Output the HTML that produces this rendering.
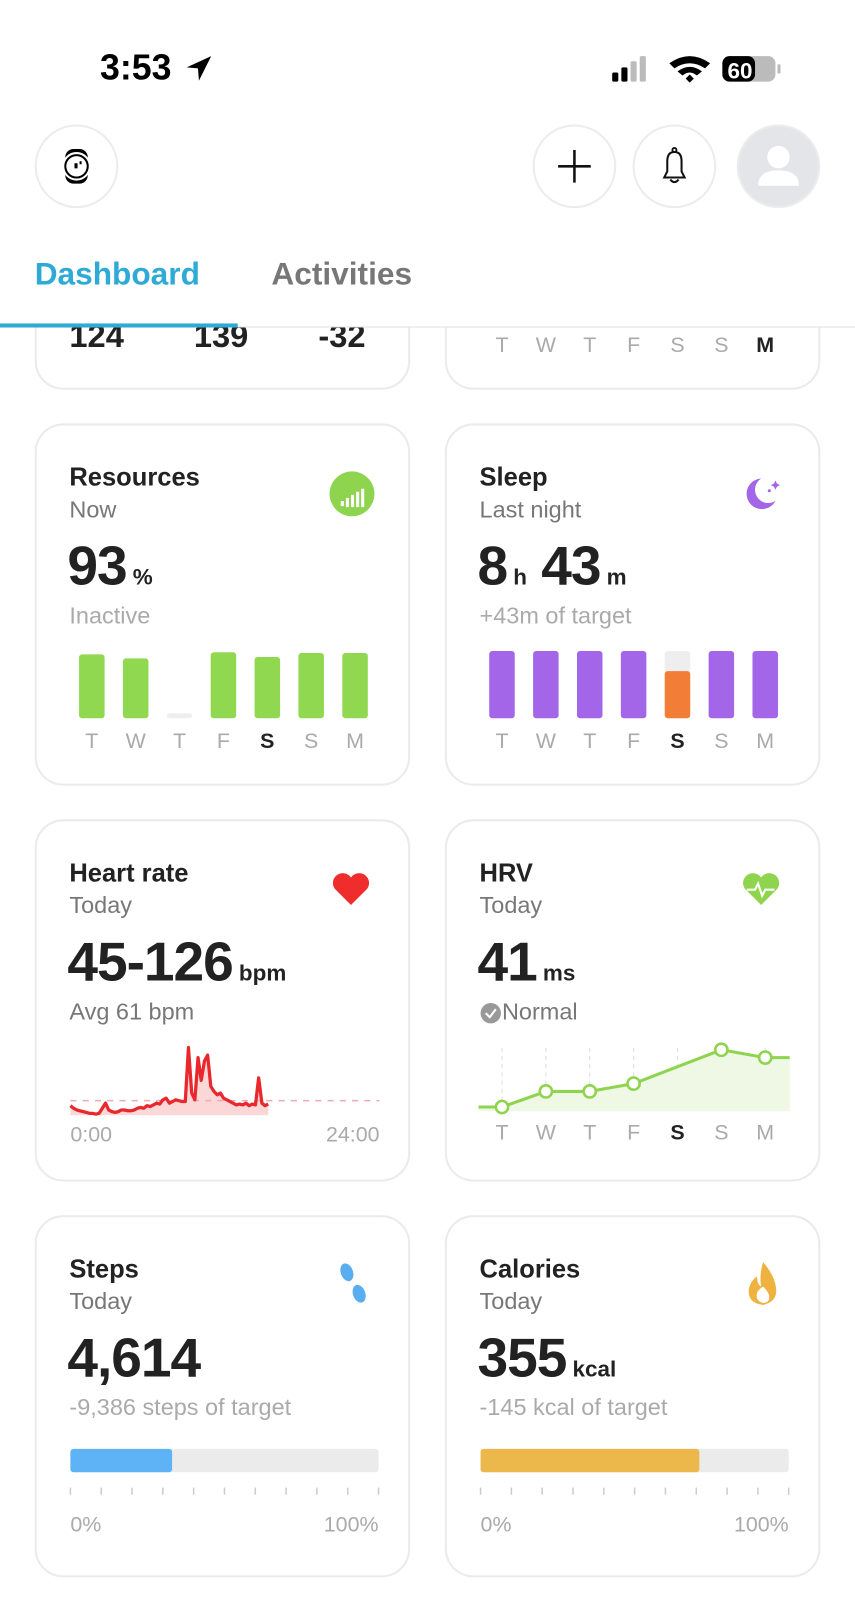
<!DOCTYPE html>
<html><head><meta charset="utf-8">
<style>
*{margin:0;padding:0;box-sizing:border-box}
html,body{width:855px;height:1600px;overflow:hidden;background:#fff;font-family:"Liberation Sans",sans-serif}
#wrap{position:absolute;left:0;top:0;width:838px;height:1568px;transform:scale(1.0203);transform-origin:0 0}
.abs{position:absolute}
.card{position:absolute;border:2px solid #ebebeb;border-radius:28px;background:#fff}
.title{position:absolute;font-size:25px;font-weight:bold;color:#222}
.sub{position:absolute;font-size:23px;color:#777}
.big{position:absolute;font-size:54px;font-weight:bold;color:#222;letter-spacing:-1px}
.big small{font-size:22px;letter-spacing:0;margin-left:6px}
.muted{position:absolute;font-size:23px;color:#aaa}
.circ{position:absolute;width:82px;height:82px;border-radius:50%;border:2px solid #ececec;background:#fff}
svg text{font-family:"Liberation Sans",sans-serif}
</style></head><body>
<div id="wrap">
<div class="abs" style="left:98px;top:47px;font-size:35px;font-weight:bold;color:#000">3:53</div>
<svg class="abs" style="left:180px;top:52px" width="30" height="30"><path d="M27 3 L3 14 L14 15 L15 27 Z" fill="#000"/></svg>
<svg class="abs" style="left:598px;top:52px" width="170" height="32">
<rect x="2" y="19" width="6" height="9" rx="1.5" fill="#000"/><rect x="11" y="14" width="6" height="14" rx="1.5" fill="#000"/><rect x="20" y="8" width="6" height="20" rx="1.5" fill="#bbb"/><rect x="29" y="3" width="6" height="25" rx="1.5" fill="#bbb"/>
<path d="M58 10 Q78 -4 98 10 L93 15 Q78 5 63 15Z" fill="#000"/><path d="M66 18 Q78 9 90 18 L85 22 Q78 16 71 22Z" fill="#000"/><path d="M74 25 L78 21 L82 25 L78 29Z" fill="#000"/>
<rect x="110" y="3" width="52" height="25" rx="7" fill="#bbb"/><rect x="110" y="3" width="32" height="25" rx="7" fill="#000"/><rect x="164" y="11" width="3" height="9" rx="1" fill="#bbb"/>
<text x="115" y="25" font-size="22" font-weight="bold" fill="#fff">60</text></svg>
<div class="circ" style="left:34px;top:122px"><svg width="78" height="78"><rect x="28" y="22" width="22" height="34" rx="8" fill="#000"/><circle cx="39" cy="39" r="13" fill="#000" stroke="#fff" stroke-width="2"/><circle cx="39" cy="39" r="10" fill="#fff"/><rect x="37" y="36" width="3" height="5" fill="#000"/><rect x="42" y="34" width="2" height="3" fill="#000"/></svg></div>
<div class="circ" style="left:522px;top:122px"><svg width="78" height="78"><path d="M39 23V55M23 39H55" stroke="#111" stroke-width="2.5"/></svg></div>
<div class="circ" style="left:620px;top:122px"><svg width="78" height="78"><path d="M29 50 L32 44 L32 34 Q32 25 39 25 Q46 25 46 34 L46 44 L49 50 Z" fill="none" stroke="#111" stroke-width="2"/><circle cx="39" cy="23" r="2" fill="none" stroke="#111" stroke-width="1.8"/><path d="M35 52 Q39 57 43 52" fill="none" stroke="#111" stroke-width="2"/></svg></div>
<div class="circ" style="left:722px;top:122px;background:#e3e5e9"><svg width="78" height="78"><circle cx="39" cy="30" r="11" fill="#fff"/><path d="M19 58 Q19 43 39 43 Q59 43 59 58 Z" fill="#fff"/></svg></div>
<div class="card" style="left:34px;top:260px;width:368px;height:122px">
<div class="abs" style="left:32px;top:49px;font-size:32px;font-weight:bold;color:#222">124</div>
<div class="abs" style="left:154px;top:49px;font-size:32px;font-weight:bold;color:#222">139</div>
<div class="abs" style="left:276px;top:49px;font-size:32px;font-weight:bold;color:#222">-32</div></div>
<div class="card" style="left:436px;top:260px;width:368px;height:122px">
<svg class="abs" style="left:0;top:0" width="368" height="120"><g font-size="21" fill="#aaa" text-anchor="middle"><text x="54" y="83">T</text><text x="97" y="83">W</text><text x="140" y="83">T</text><text x="183" y="83">F</text><text x="226" y="83">S</text><text x="269" y="83">S</text><text x="312" y="83" fill="#222" font-weight="bold">M</text></g></svg></div>
<div class="abs" style="left:0;top:220px;width:838px;height:101px;background:#fff;border-bottom:1.5px solid #e0e0e0"></div>
<div class="abs" style="left:34px;top:251px;font-size:31px;font-weight:bold;color:#2eaad6">Dashboard</div>
<div class="abs" style="left:266px;top:251px;font-size:31px;font-weight:bold;color:#777">Activities</div>
<div class="abs" style="left:0;top:317px;width:233px;height:4px;background:#2eaad6"></div>

<div class="card" style="left:34px;top:415px;width:368px;height:355px">
<div class="title" style="left:32px;top:37px">Resources</div><div class="sub" style="left:32px;top:69px">Now</div>
<div class="big" style="left:30px;top:107px">93<small>%</small></div><div class="muted" style="left:32px;top:173px">Inactive</div>
<svg class="abs" style="left:286px;top:44px" width="46" height="46"><circle cx="23" cy="23" r="22" fill="#8fd44f"/><g fill="#fff"><rect x="12" y="30" width="3" height="5"/><rect x="17" y="27" width="3" height="9"/><rect x="22" y="24" width="3" height="12"/><rect x="27" y="21" width="3" height="15"/><rect x="32" y="18" width="3" height="18"/></g></svg>
<svg id="resSvg" class="abs" style="left:0;top:0" width="368" height="350"></svg></div>
<div class="card" style="left:436px;top:415px;width:368px;height:355px">
<div class="title" style="left:32px;top:37px">Sleep</div><div class="sub" style="left:32px;top:69px">Last night</div>
<div class="big" style="left:30px;top:107px">8<small>h</small> 43<small>m</small></div><div class="muted" style="left:32px;top:173px">+43m of target</div>
<svg class="abs" style="left:286px;top:46px" width="46" height="46"><path d="M22 6 A15 15 0 1 0 36 28 A12 12 0 0 1 22 6Z" fill="#a466e8"/><path d="M36 8 l1.5 3 3 1.5 -3 1.5 -1.5 3 -1.5 -3 -3 -1.5 3 -1.5z" fill="#a466e8"/><circle cx="30" cy="18" r="1.5" fill="#a466e8"/></svg>
<svg id="sleepSvg" class="abs" style="left:0;top:0" width="368" height="350"></svg></div>
<div class="card" style="left:34px;top:803px;width:368px;height:355px">
<div class="title" style="left:32px;top:37px">Heart rate</div><div class="sub" style="left:32px;top:69px">Today</div>
<div class="big" style="left:30px;top:107px">45-126<small>bpm</small></div><div class="sub" style="left:32px;top:173px">Avg 61 bpm</div>
<svg class="abs" style="left:288px;top:48px" width="40" height="36"><path d="M20 34 L4 18 A9 9 0 0 1 20 7 A9 9 0 0 1 36 18 Z" fill="#f02d2d"/></svg>
<svg id="hrSvg" class="abs" style="left:0;top:0" width="368" height="350"></svg></div>
<div class="card" style="left:436px;top:803px;width:368px;height:355px">
<div class="title" style="left:32px;top:37px">HRV</div><div class="sub" style="left:32px;top:69px">Today</div>
<div class="big" style="left:30px;top:107px">41<small>ms</small></div>
<svg class="abs" style="left:32px;top:177px" width="22" height="22"><circle cx="11" cy="11" r="10" fill="#999"/><path d="M6 11 L10 15 L16 7" stroke="#fff" stroke-width="2" fill="none"/></svg>
<div class="sub" style="left:54px;top:173px">Normal</div>
<svg class="abs" style="left:288px;top:48px" width="40" height="36"><path d="M20 34 L4 18 A9 9 0 0 1 20 7 A9 9 0 0 1 36 18 Z" fill="#8fd44f"/><path d="M6 19 H14 L17 13 L21 25 L24 19 H33" stroke="#fff" stroke-width="2" fill="none"/></svg>
<svg id="hrvSvg" class="abs" style="left:0;top:0" width="368" height="350"></svg></div>
<div class="card" style="left:34px;top:1191px;width:368px;height:355px">
<div class="title" style="left:32px;top:37px">Steps</div><div class="sub" style="left:32px;top:69px">Today</div>
<div class="big" style="left:30px;top:107px">4,614</div><div class="muted" style="left:32px;top:173px">-9,386 steps of target</div>
<svg class="abs" style="left:294px;top:42px" width="34" height="50"><ellipse cx="10" cy="12" rx="6" ry="9" fill="#5aaef0" transform="rotate(-20 10 12)"/><ellipse cx="22" cy="33" rx="6" ry="9" fill="#5aaef0" transform="rotate(-20 22 33)"/></svg>
<svg id="stepsSvg" class="abs" style="left:0;top:0" width="368" height="350"></svg></div>
<div class="card" style="left:436px;top:1191px;width:368px;height:355px">
<div class="title" style="left:32px;top:37px">Calories</div><div class="sub" style="left:32px;top:69px">Today</div>
<div class="big" style="left:30px;top:107px">355<small>kcal</small></div><div class="muted" style="left:32px;top:173px">-145 kcal of target</div>
<svg class="abs" style="left:290px;top:42px" width="40" height="48"><path d="M20 2 Q30 14 32 24 Q36 40 20 44 Q4 42 6 28 Q8 20 14 16 Q14 24 18 26 Q16 14 20 2Z" fill="#efb13f"/><path d="M20 42 Q12 40 14 32 Q16 28 20 26 Q26 32 26 36 Q26 42 20 42Z" fill="#fff"/></svg>
<svg id="calSvg" class="abs" style="left:0;top:0" width="368" height="350"></svg></div>
</div>
<script>
const days=["T","W","T","F","S","S","M"];
const boldDay=4;
const resourcesVals=[95,89,2,98,91,97,97];
const sleepVals=[100,100,100,100,70,100,100];
const hrBpm=[55,52,50,49,48,47,46,46,45,46,52,58,50,48,47,48,50,50,49,49,50,52,53,52,55,54,56,58,57,62,64,58,60,62,61,60,60,124,70,62,112,85,108,115,78,72,68,70,64,62,60,58,56,57,56,58,55,57,56,88,58,55,57];
const hrAvg=61;
const hrDayFraction=0.64;
const hrvVals=[33,36,36,37.5,null,44,42.5];
const hrvLast=42.5;
const stepsPct=33;
const calPct=71;
const NS="http://www.w3.org/2000/svg";
function mk(svg,tag,attrs){const e=document.createElementNS(NS,tag);for(const k in attrs)e.setAttribute(k,attrs[k]);svg.appendChild(e);return e;}
function dayX(i){return 54+i*43;}
function dayLabels(svg,y){days.forEach((d,i)=>{const t=mk(svg,'text',{x:dayX(i),y:y,'font-size':21,'text-anchor':'middle',fill:i===boldDay?'#222':'#aaa','font-weight':i===boldDay?'bold':'normal'});t.textContent=d;

});}
function barY(v){return 287-v/100*66;}
function bars(id,vals,color,alt){const s=document.getElementById(id);vals.forEach((v,i)=>{
if(alt&&v<100){mk(s,'rect',{x:dayX(i)-12.5,y:barY(100),width:25,height:66,rx:3,fill:'#eee'});}
const h=Math.max(5,287-barY(v));const r=mk(s,'rect',{x:dayX(i)-12.5,y:287-h,width:25,height:h,rx:3,fill:v<10?'#eee':(alt&&v<100?'#f27d36':color)});

});dayLabels(s,316);}
bars('resSvg',resourcesVals,'#8fd84f',false);
bars('sleepSvg',sleepVals,'#a466e8',true);
(function(){const s=document.getElementById('hrSvg');const x0=33,x1=336;
const y=v=>287-(v-45)*0.827;const x=t=>x0+t*(x1-x0);
const n=hrBpm.length;let pts=hrBpm.map((v,i)=>[x(i/(n-1)*hrDayFraction),y(v)]);
let d='M'+pts.map(p=>p[0].toFixed(1)+' '+p[1].toFixed(1)).join(' L');
const area=mk(s,'path',{d:d+' L'+pts[n-1][0]+' 288 L'+x0+' 288Z',fill:'#fbd7d7'});


const avg=mk(s,'line',{x1:x0,x2:x1,y1:y(hrAvg),y2:y(hrAvg),stroke:'#eeaab0','stroke-width':1.5,'stroke-dasharray':'6 6'});


const ln=mk(s,'path',{d:d,fill:'none',stroke:'#e8282c','stroke-width':3.2,'stroke-linejoin':'round'});


const a=mk(s,'text',{x:x0,y:314,'font-size':21,fill:'#aaa'});a.textContent='0:00';
const b=mk(s,'text',{x:x1,y:314,'font-size':21,fill:'#aaa','text-anchor':'end'});b.textContent='24:00';})();
(function(){const s=document.getElementById('hrvSvg');const y=v=>280-(v-33)*5.1;
days.forEach((d,i)=>{mk(s,'line',{x1:dayX(i),x2:dayX(i),y1:222,y2:284,stroke:'#ddd','stroke-width':1,'stroke-dasharray':'4 4'});});
let pts=[[31,y(hrvVals[0])]];hrvVals.forEach((v,i)=>{if(v!==null)pts.push([dayX(i),y(v)]);});pts.push([336,y(hrvLast)]);
const d='M'+pts.map(p=>p[0]+' '+p[1].toFixed(1)).join(' L');
const ar=mk(s,'path',{d:d+' L336 284 L31 284Z',fill:'#eef8e4'});


const ln=mk(s,'path',{d:d,fill:'none',stroke:'#8fd44f','stroke-width':3,'stroke-linejoin':'round'});


hrvVals.forEach((v,i)=>{if(v===null)return;const c=mk(s,'circle',{cx:dayX(i),cy:y(v),r:6,fill:'#fff',stroke:'#8fd44f','stroke-width':2.5});

});
dayLabels(s,312);})();
function prog(id,pct,color){const s=document.getElementById(id);
mk(s,'rect',{x:33,y:227,width:302,height:23,rx:3,fill:'#ebebeb'});
const f=mk(s,'rect',{x:33,y:227,width:302*pct/100,height:23,rx:3,fill:color});


for(let i=0;i<=10;i++)mk(s,'line',{x1:33+i*30.2,x2:33+i*30.2,y1:265,y2:272,stroke:'#ccc','stroke-width':1.5});
const a=mk(s,'text',{x:33,y:308,'font-size':21,fill:'#aaa'});a.textContent='0%';
const b=mk(s,'text',{x:335,y:308,'font-size':21,fill:'#aaa','text-anchor':'end'});b.textContent='100%';}
prog('stepsSvg',stepsPct,'#5db3f6');
prog('calSvg',calPct,'#ecb84b');
</script>
</body></html>
